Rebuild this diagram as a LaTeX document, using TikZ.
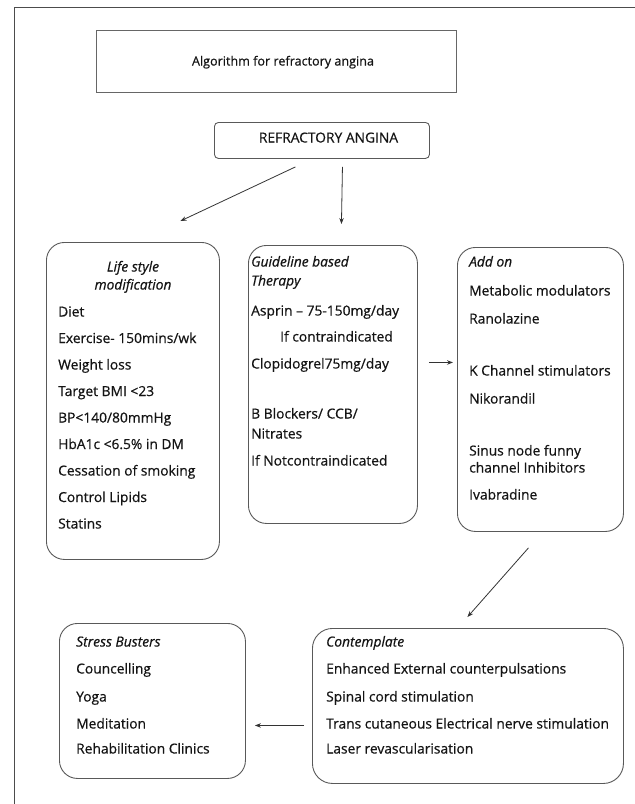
\documentclass[tikz,border=0pt]{standalone}
\usepackage{fontspec}
\setmainfont{Open Sans}[FakeBold=0.6]
\usetikzlibrary{arrows.meta,calc}
\begin{document}
\begin{tikzpicture}[x=1pt,y=-1pt,
  box/.style={draw=black!65, line width=0.9pt, rounded corners=18pt, anchor=north west, inner sep=0pt},
  txt/.style={anchor=west, inner sep=0pt, text height=10pt, text depth=3pt, font=\fontsize{13.8}{16}\selectfont, text=black!92},
  hd/.style={txt, font=\fontsize{13.8}{16}\selectfont\itshape},
  hdc/.style={hd, anchor=center},
  arr/.style={-{Stealth[length=6pt,width=4.5pt]}, line width=0.8pt, draw=black!80}]
\useasboundingbox (0,0) rectangle (635,804);
% outer frame (cropped)
\draw[black!70, line width=1pt] (14,804) -- (14,7) -- (635,7);
% title
\node[draw=black!60, line width=1.3pt, anchor=north west, minimum width=360pt, minimum height=62pt, inner sep=0pt] (title) at (96,30) {};
\node[txt, anchor=center, font=\fontsize{12.6}{15}\selectfont] (titletxt) at (283,62) {Algorithm for refractory angina};
% refractory angina
\node[draw=black!65, line width=0.9pt, rounded corners=4pt, anchor=north west, minimum width=215pt, minimum height=36pt, inner sep=0pt] (ra) at (214,122) {};
\node[txt, anchor=center] (ratxt) at (328.5,139) {REFRACTORY ANGINA};
% boxes
\node[box, minimum width=173pt, minimum height=317pt] (life) at (46,242) {};
\node[box, minimum width=169pt, minimum height=278pt] (guide) at (248,245) {};
\node[box, minimum width=166pt, minimum height=284pt] (addon) at (457,247) {};
\node[box, minimum width=311pt, minimum height=155pt, rounded corners=20pt] (cont) at (312,628) {};
\node[box, minimum width=186pt, minimum height=155pt] (stress) at (59,623) {};
% life style text
\node[hdc] (l0) at (133,268) {Life style};
\node[hdc] (l00) at (133,286) {modification};
\node[txt] (l1) at (58,313) {Diet};
\node[txt] (l2) at (58,339.5) {Exercise- 150mins/wk};
\node[txt] (l3) at (58,366) {Weight loss};
\node[txt] (l4) at (58,392.5) {Target BMI <23};
\node[txt] (l5) at (58,419) {BP<140/80mmHg};
\node[txt] (l6) at (58,445.5) {HbA1c <6.5\% in DM};
\node[txt] (l7) at (58,472) {Cessation of smoking};
\node[txt] (l8) at (58,498.5) {Control Lipids};
\node[txt] (l9) at (58,525) {Statins};
% guideline text
\node[hd] (g0) at (251,263) {Guideline based};
\node[hd] (g00) at (251,282) {Therapy};
\node[txt] (g1) at (251,312) {Asprin – 75-150mg/day};
\node[txt] (g2) at (280,338) {If contraindicated};
\node[txt] (g3) at (251,365) {Clopidogrel75mg/day};
\node[txt] (g4) at (251,415) {B Blockers/ CCB/};
\node[txt] (g5) at (251,435) {Nitrates};
\node[txt] (g6) at (251,462) {If Notcontraindicated};
% add on text
\node[hd] (a0) at (469,263) {Add on};
\node[txt] (a1) at (469,292) {Metabolic modulators};
\node[txt] (a2) at (469,320) {Ranolazine};
\node[txt] (a3) at (469,372) {K Channel stimulators};
\node[txt] (a4) at (469,400) {Nikorandil};
\node[txt] (a5) at (469,452) {Sinus node funny};
\node[txt] (a6) at (469,469) {channel Inhibitors};
\node[txt] (a7) at (469,496) {Ivabradine};
% contemplate text
\node[hd] (c0) at (326,643) {Contemplate};
\node[txt] (c1) at (326,670) {Enhanced External counterpulsations};
\node[txt] (c2) at (326,698) {Spinal cord stimulation};
\node[txt] (c3) at (326,725) {Trans cutaneous Electrical nerve stimulation};
\node[txt] (c4) at (326,750) {Laser revascularisation};
% stress text
\node[hd] (s0) at (76,643) {Stress Busters};
\node[txt] (s1) at (76,670) {Councelling};
\node[txt] (s2) at (76,698) {Yoga};
\node[txt] (s3) at (76,725) {Meditation};
\node[txt] (s4) at (76,750) {Rehabilitation Clinics};
% arrows
\draw[arr] ($(ra.south)+(-26.5,8)$) -- ($(life.north)+(47.5,-21)$);
\draw[arr] ($(ra.south)+(20.5,8)$) -- ($(guide.north)+(8.5,-21)$);
\draw[arr] ($(guide.east)+(11,-22)$) -- ($(addon.west)+(-4,-27)$);
\draw[arr] ($(addon.south)+(-12,16)$) -- ($(cont.north)+(-0.5,-11)$);
\draw[arr] ($(cont.west)+(-8,19.5)$) -- ($(stress.east)+(9,24.5)$);
\end{tikzpicture}
\end{document}
